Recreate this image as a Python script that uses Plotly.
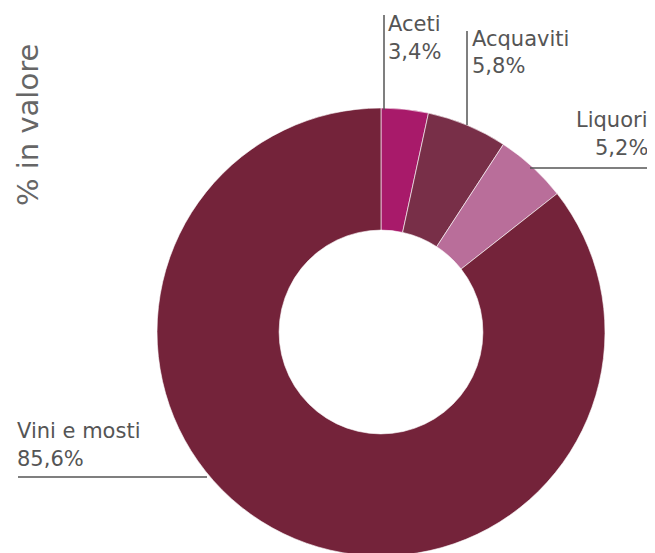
import plotly.graph_objects as go

# dati: quota % in valore
categorie = ["Aceti", "Acquaviti", "Liquori", "Vini e mosti"]
valori = [3.4, 5.8, 5.2, 85.6]
etichette = ["3,4%", "5,8%", "5,2%", "85,6%"]
colori = ["#a81a6a", "#782f48", "#b96e9a", "#74233a"]

# la pagina ha 8px di margine nel body: la figura parte da (8, 8)
W, H = 647, 548
OFF = 8
def px(x):
    return (x - OFF) / W
def py_(y):
    return 1 - (y - OFF) / H

FONT = "DejaVu Sans"
GRIGIO = "#555555"

fig = go.Figure()
fig.add_trace(go.Pie(
    labels=categorie,
    values=valori,
    marker=dict(colors=colori, line=dict(color="#ffffff", width=0.6)),
    hole=0.455,
    sort=False,
    direction="clockwise",
    rotation=0,
    textinfo="none",
    showlegend=False,
    domain=dict(x=[0.2303, 0.9227], y=[0.0, 0.8175]),
))

# etichette con linee guida: nome e valore su due righe
pos = [
    # x, y riga 1, y riga 2, anchor
    (386, 10, 38, "left"),
    (470, 25, 52, "left"),
    (650, 106, 134, "right"),
    (15, 417, 445, "left"),
]
for i, (x, y1, y2, a) in enumerate(pos):
    for t, y in ((categorie[i], y1), (etichette[i], y2)):
        fig.add_annotation(
            text=t, x=px(x), y=py_(y), xref="paper", yref="paper",
            xanchor=a, yanchor="top", align=a, showarrow=False,
            font=dict(family=FONT, size=21, color=GRIGIO),
        )

linee = [
    (384, 15, 384, 110),
    (467, 31, 467, 125),
    (530, 168, 648, 168),
    (18, 477, 207, 477),
]
for x0, y0, x1, y1 in linee:
    fig.add_shape(type="line", xref="paper", yref="paper",
                  x0=px(x0), y0=py_(y0), x1=px(x1), y1=py_(y1),
                  line=dict(color=GRIGIO, width=1.5))

fig.add_annotation(
    text="% in valore", x=px(28), y=py_(125), xref="paper", yref="paper",
    textangle=-90, showarrow=False, xanchor="center", yanchor="middle",
    font=dict(family=FONT, size=29, color="#666666"),
)

fig.update_layout(
    width=W, height=H,
    margin=dict(l=0, r=0, t=0, b=0),
    paper_bgcolor="white",
    plot_bgcolor="white",
)

fig.write_html("out.html")
